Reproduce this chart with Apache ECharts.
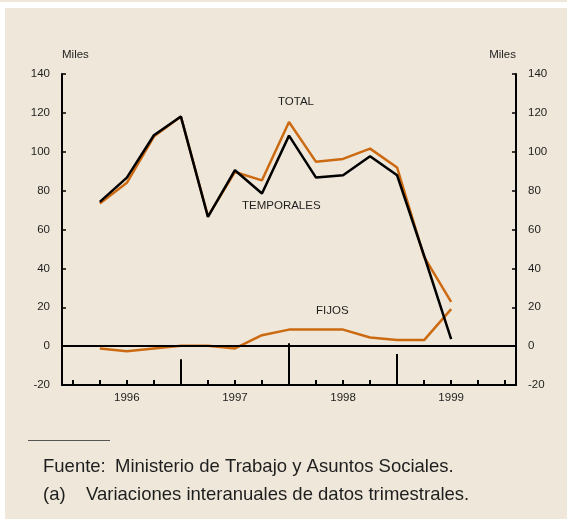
<!DOCTYPE html>
<html><head><meta charset="utf-8">
<script src="https://cdn.jsdelivr.net/npm/echarts@6/dist/echarts.min.js"></script>
<style>
html,body{margin:0;padding:0;background:#fff;}
#wrap{position:relative;width:567px;height:519px;overflow:hidden;background:#fff;}
#bg{position:absolute;left:5px;top:8px;width:562px;height:511px;background:#efe8da;}
#strip{position:absolute;left:0;top:0;width:567px;height:2px;background:#efe8da;}
#c{position:absolute;left:0;top:0;width:567px;height:519px;}
</style>
</head><body>
<div id="wrap"><div id="strip"></div><div id="bg"></div><div id="c"></div></div>
<script>
// Quarter positions (0..16 ticks on the quarterly axis), data at 1..14
const quarters = [1,2,3,4,5,6,7,8,9,10,11,12,13,14];
const total = [73.4, 84.0, 107.8, 118.1, 66.8, 89.6, 85.3, 115.3, 94.8, 96.3, 101.6, 91.9, 45.9, 22.8];
const temporales = [74.2, 86.7, 108.5, 118.1, 66.5, 90.5, 78.5, 108.3, 86.7, 87.9, 97.7, 87.9, 46.5, 3.6];
const fijos = [-1.2, -2.6, -1.2, 0.2, 0.2, -1.2, 5.6, 8.5, 8.5, 8.5, 4.4, 3.1, 3.1, 19.0];
const quarterTicks = [0,1,2,3,4,5,6,7,8,9,10,11,12,13,14,15,16];
const yearLabelPositions = [2,6,10,14];
const yearNames = ['1996','1997','1998','1999'];
const dividerPositions = [4,8,12];
const dividerTops = [-6.7, 1.5, -4.1];
const yMin = -20, yMax = 140, yStep = 20;
const seriesNames = ['TOTAL','TEMPORALES','FIJOS'];

const FONT = '"Liberation Sans", Arial, Helvetica, sans-serif';
const ORANGE = '#cc6a12';
const TXT = '#1e1e1e';

const pairs = arr => quarters.map((q,i)=>[q, arr[i]]);

const chart = echarts.init(document.getElementById('c'), null, {renderer:'canvas'});

const yAxisCommon = {
  type:'value', min:yMin, max:yMax, interval:yStep,
  axisLine:{show:true, onZero:false, lineStyle:{color:'#000', width:2}},
  axisTick:{show:true, inside:true, length:4, lineStyle:{color:'#000', width:1.5}},
  axisLabel:{margin:12, fontSize:11.5, color:TXT, fontFamily:FONT},
  splitLine:{show:false},
  name:'Miles', nameLocation:'end', nameGap:13,
  nameTextStyle:{fontSize:11.5, color:TXT, fontFamily:FONT}
};

const markData = [{yAxis:0}];
dividerPositions.forEach((p,i)=>{
  markData.push([{coord:[p, yMin]}, {coord:[p, dividerTops[i]]}]);
});

chart.setOption({
  backgroundColor:'transparent',
  animation:false,
  grid:{left:62, right:51, top:74, bottom:134, containLabel:false},
  xAxis:{
    type:'value', min:-0.4, max:16.4,
    axisLine:{show:true, onZero:false, lineStyle:{color:'#000', width:2}},
    axisTick:{show:true, inside:true, length:5, customValues:quarterTicks, lineStyle:{color:'#000', width:2}},
    axisLabel:{show:true, customValues:yearLabelPositions, margin:7, fontSize:11.5, color:TXT, fontFamily:FONT,
      formatter:v=>{const i=yearLabelPositions.indexOf(Math.round(v)); return i>=0?yearNames[i]:'';}},
    splitLine:{show:false}
  },
  yAxis:[
    Object.assign({}, yAxisCommon, {position:'left', nameTextStyle:Object.assign({}, yAxisCommon.nameTextStyle, {align:'left'})}),
    Object.assign({}, yAxisCommon, {position:'right', nameTextStyle:Object.assign({}, yAxisCommon.nameTextStyle, {align:'right'})})
  ],
  series:[
    {type:'line', name:'ref', data:[], z:1, silent:true,
      markLine:{silent:true, symbol:['none','none'], label:{show:false},
        lineStyle:{color:'#000', width:2, type:'solid'}, data:markData}},
    {type:'line', name:seriesNames[0], data:pairs(total), showSymbol:false, symbol:'none', z:3,
      lineStyle:{color:ORANGE, width:2.5}, itemStyle:{color:ORANGE}},
    {type:'line', name:seriesNames[2], data:pairs(fijos), showSymbol:false, symbol:'none', z:3,
      lineStyle:{color:ORANGE, width:2.5}, itemStyle:{color:ORANGE}},
    {type:'line', name:seriesNames[1], data:pairs(temporales), showSymbol:false, symbol:'none', z:4,
      lineStyle:{color:'#000', width:2.5}, itemStyle:{color:'#000'}}
  ],
  graphic:[
    {type:'text', left:278, top:96, style:{text:seriesNames[0], font:'11.5px '+FONT, fill:TXT}},
    {type:'text', left:242, top:200, style:{text:seriesNames[1], font:'11.5px '+FONT, fill:TXT}},
    {type:'text', left:316, top:305, style:{text:seriesNames[2], font:'11.5px '+FONT, fill:TXT}},
    {type:'line', shape:{x1:28, y1:440.5, x2:110, y2:440.5}, style:{stroke:'#555', lineWidth:1}},
    {type:'text', left:43, top:457, style:{text:'Fuente:', font:'18.5px '+FONT, fill:TXT}},
    {type:'text', left:115, top:457, style:{text:'Ministerio de Trabajo y Asuntos Sociales.', font:'18.5px '+FONT, fill:TXT}},
    {type:'text', left:43, top:485, style:{text:'(a)', font:'18.5px '+FONT, fill:TXT}},
    {type:'text', left:86, top:485, style:{text:'Variaciones interanuales de datos trimestrales.', font:'18.5px '+FONT, fill:TXT}}
  ]
});
</script>
</body></html>
